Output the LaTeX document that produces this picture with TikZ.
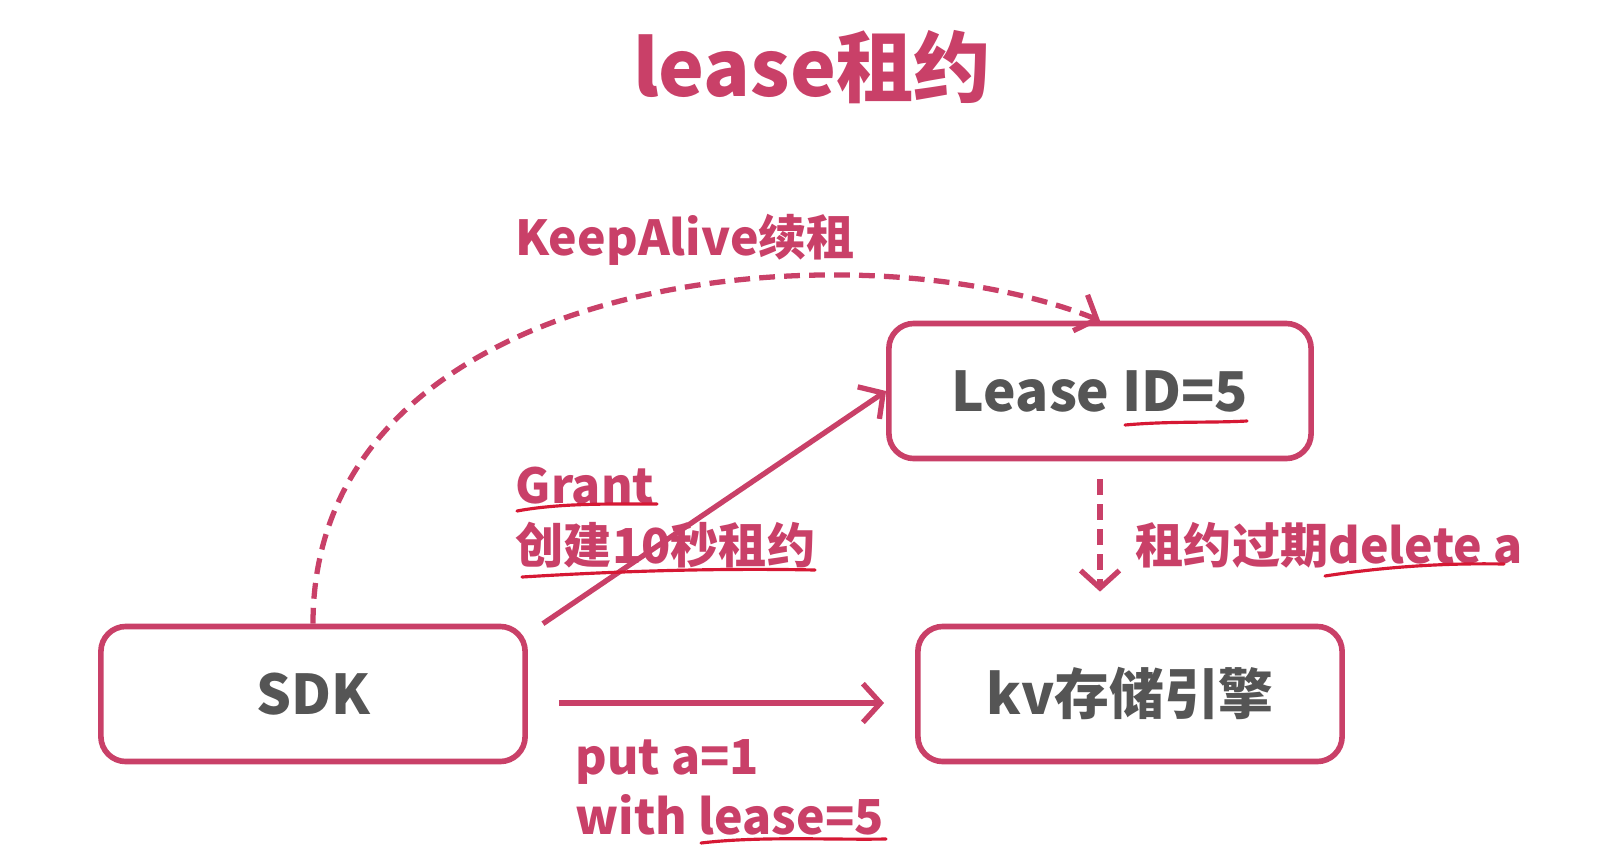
\documentclass[tikz,border=0pt]{standalone}
\usepackage{fontspec}
\setmainfont{Noto Sans CJK SC}
\usepackage{tikz}
\usetikzlibrary{arrows.meta,positioning}
\definecolor{rose}{RGB}{201,64,104}
\definecolor{ink}{RGB}{85,85,85}
\definecolor{pen}{RGB}{214,24,52}

\begin{document}
\begin{tikzpicture}[x=0.01cm, y=-0.01cm,
  box/.style={draw=rose, line width=1.6pt, rounded corners=0.25cm, fill=white, text=ink, minimum height=1.35cm, font=\fontsize{15.6}{19}\selectfont\bfseries},
  arr/.style={-{Straight Barb[length=5pt,width=11pt]}, draw=rose, line width=1.5pt},
  dasharr/.style={arr, dash pattern=on 4.5pt off 2.6pt},
  lab/.style={text=rose, inner sep=0pt, align=left, font=\fontsize{13.7}{17}\selectfont\bfseries},
  scribble/.style={draw=pen, line width=0.9pt, line cap=round}
]
\useasboundingbox (0,0) rectangle (1621,854);

\node[text=rose, font=\fontsize{22}{26}\selectfont\bfseries] (title) at (812,67) {lease租约};

\node[box, minimum width=4.24cm] (sdk) at (313,694) {SDK};
\node[box, minimum width=4.22cm] (lease) at (1100,391) {Lease ID=5};
\node[box, minimum width=4.24cm] (kv) at (1130,694) {kv存储引擎};

\node[lab, anchor=west] (keep) at (515,240) {KeepAlive续租};
\node[lab, anchor=north west] (grant) at (515,466) {Grant\\创建10秒租约};
\node[lab, anchor=west] (expire) at (1135,545) {租约过期delete a};
\node[lab, anchor=north west] (put) at (575,739) {put a=1\\with lease=5};

% Connectors
\draw[dasharr] (sdk.north) .. controls +(0,-350) and +(-250,-100) .. (lease.north);
\draw[arr] ([xshift=0.15cm]sdk.north east) -- (lease.west);
\draw[dasharr] ([yshift=-0.18cm]lease.south) -- ([yshift=0.32cm]lease.south |- kv.north);
\draw[arr] ([xshift=0.31cm,yshift=-0.09cm]sdk.east) -- ([xshift=-0.31cm,yshift=-0.09cm]kv.west);

% Hand-drawn underlines
\draw[scribble] (1125,425) .. controls (1170,421) and (1210,423) .. (1247,421);
\draw[scribble] (517,511) .. controls (560,503) and (610,504) .. (657,504);
\draw[scribble] (522,577) .. controls (620,571) and (720,568) .. (815,570);
\draw[scribble] (1325,576) .. controls (1390,566) and (1450,563) .. (1504,564);
\draw[scribble] (701,843) .. controls (760,836) and (830,840) .. (886,839);
\end{tikzpicture}
\end{document}
